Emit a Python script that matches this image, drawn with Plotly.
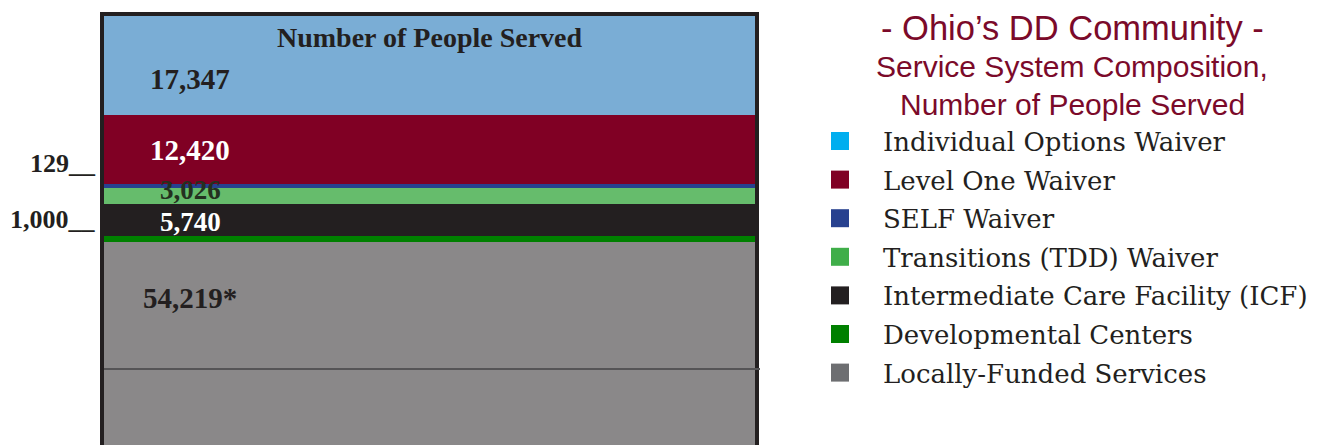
import plotly.graph_objects as go

# ---------------- data ----------------
categories = [
    "Individual Options Waiver",
    "Level One Waiver",
    "SELF Waiver",
    "Transitions (TDD) Waiver",
    "Intermediate Care Facility (ICF)",
    "Developmental Centers",
    "Locally-Funded Services",
]
people_served = [17347, 12420, 129, 3026, 5740, 1000, 54219]
value_labels = ["17,347", "12,420", "129", "3,026", "5,740", "1,000", "54,219*"]

# ---------------- styles ----------------
bar_colors = ["#7aadd5", "#800024", "#27418f", "#66bc6c", "#231f20", "#008000", "#8a8889"]
legend_colors = ["#00aeef", "#800024", "#27418f", "#3fae49", "#231f20", "#008000", "#6d6e71"]
label_colors = ["#231f20", "#ffffff", None, "#24301f", "#ffffff", None, "#231f20"]
label_frac = [0.64, 0.5, None, 0.2, 0.55, None, 0.18]
label_size = [29, 29, 26, 27, 27, 26, 29]
min_band_px = [0, 0, 4, 0, 0, 0, 0]   # keeps the very thin SELF band visible
outside_yshift = {2: 6, 5: 0}

OFF = 8  # default page margin of the html body
W, H = 1332 - OFF, 445 - OFF
ML, MT, MB = 104 - OFF, 16 - OFF, 0
PW = 755 - 104
PH = H - MT - MB
MR = W - ML - PW
Y_MAX = 75300
FRAME = "#231f20"
TITLE_COLOR = "#7b0a2a"


def px_x(p):
    return (p - 104) / PW


def px_y(p):
    return 1 - (p - 16) / PH


fig = go.Figure()
for name, val, col in zip(categories, people_served, bar_colors):
    fig.add_trace(go.Bar(
        x=[0], y=[val], name=name, width=1,
        marker=dict(color=col, line=dict(width=0)),
        showlegend=False, hoverinfo="name+y",
    ))

annotations = []
shapes = []

# labels inside / beside the stacked segments
start = 0
for i, (val, lab) in enumerate(zip(people_served, value_labels)):
    if min_band_px[i]:
        shapes.append(dict(
            type="line", xref="x", yref="y", x0=-0.5, x1=0.5,
            y0=start + val / 2, y1=start + val / 2,
            line=dict(color=bar_colors[i], width=min_band_px[i]),
        ))
    if i in outside_yshift:
        annotations.append(dict(
            x=0, xref="paper", y=start, yref="y",
            text=lab + "__", showarrow=False, xanchor="right", yanchor="bottom",
            font=dict(family="Liberation Serif", size=label_size[i], color=FRAME, weight="bold"),
            xshift=-6, yshift=outside_yshift[i],
        ))
    else:
        annotations.append(dict(
            x=-0.5, xref="x", y=start + val * label_frac[i], yref="y",
            text=lab, showarrow=False, xanchor="center", yanchor="middle", xshift=86,
            font=dict(family="Liberation Serif", size=label_size[i], color=label_colors[i], weight="bold"),
        ))
    start += val

# header inside bar
annotations.append(dict(
    x=0, xref="x", y=px_y(37), yref="paper", text="Number of People Served",
    showarrow=False, xanchor="center", yanchor="middle",
    font=dict(family="Liberation Serif", size=28, color=FRAME, weight="bold"),
))

# titles on the right
for txt, yy, sz in [("- Ohio’s DD Community -", 28, 34.5),
                    ("Service System Composition,", 66, 30),
                    ("Number of People Served", 105, 30)]:
    annotations.append(dict(
        x=px_x(1072), xref="paper", y=px_y(yy), yref="paper", text=txt,
        showarrow=False, xanchor="center", yanchor="middle",
        font=dict(family="Liberation Sans", size=sz, color=TITLE_COLOR),
    ))

# manual legend
for i, (name, col) in enumerate(zip(categories, legend_colors)):
    cy = 141 + i * 38.6
    shapes.append(dict(
        type="rect", xref="paper", yref="paper",
        x0=px_x(831), x1=px_x(849), y0=px_y(cy - 9), y1=px_y(cy + 9),
        fillcolor=col, line=dict(width=0),
    ))
    annotations.append(dict(
        x=px_x(881), xref="paper", y=px_y(cy + 1), yref="paper", text=name,
        showarrow=False, xanchor="left", yanchor="middle",
        font=dict(family="DejaVu Serif", size=26, color=FRAME),
    ))

# thin divider line in the grey block
shapes.append(dict(
    type="line", xref="paper", yref="paper", x0=0, x1=px_x(760),
    y0=px_y(369), y1=px_y(369), line=dict(color="#555456", width=2),
))

fig.update_layout(
    width=W, height=H,
    margin=dict(l=ML, r=MR, t=MT, b=MB, pad=0),
    barmode="stack", bargap=0,
    paper_bgcolor="white", plot_bgcolor="white",
    xaxis=dict(range=[-0.5, 0.5], side="top", showline=True, linecolor=FRAME, linewidth=4,
               showticklabels=False, ticks="", showgrid=False, zeroline=False, fixedrange=True),
    yaxis=dict(range=[Y_MAX, 0], showline=True, mirror=True, linecolor=FRAME, linewidth=4,
               showticklabels=False, ticks="", showgrid=False, zeroline=False, fixedrange=True),
    annotations=annotations,
    shapes=shapes,
    showlegend=False,
)

fig.write_html("out.html")
